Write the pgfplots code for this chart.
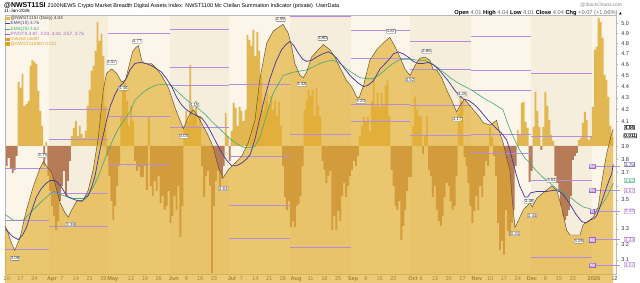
\documentclass[border=0pt]{standalone}
\usepackage{pgfplots}
\pgfplotsset{compat=1.18}
\usepackage{pgfplotstable}
\usepackage{fontspec}
\setmainfont{Liberation Sans}
\newfontfamily\djv{DejaVu Sans}
\definecolor{bgA}{HTML}{FBF6E9}
\definecolor{bgB}{HTML}{F5EEDC}
\definecolor{barpos}{HTML}{E2B650}
\definecolor{barneg}{HTML}{B67C58}
\definecolor{areac}{HTML}{E2AE30}
\definecolor{pricel}{HTML}{5E4C2C}
\definecolor{ematen}{HTML}{4A3C9C}
\definecolor{ematwf}{HTML}{3DAA7A}
\definecolor{pivc}{HTML}{B48CE0}
\definecolor{pivt}{HTML}{A060C8}
\definecolor{txt}{HTML}{333333}
\definecolor{legor}{HTML}{E0A030}
\tikzset{
  peak/.style={draw=gray!75!black, fill=white, rounded corners=0.6pt, inner sep=0.45pt, font=\fontsize{4.4}{4.4}\selectfont, line width=0.3pt, text=txt},
  rbox/.style={fill=white, rounded corners=0.5pt, inner sep=0.5pt, font=\fontsize{4.8}{4.8}\selectfont, line width=0.4pt},
  pbox/.style={fill=pivc!70, draw=pivt, text=white, inner sep=0.5pt, font=\fontsize{4.4}{4.4}\selectfont, line width=0.3pt},
}

\pgfplotstableread[row sep=\\]{h\\
-20\\-12\\-22\\-27\\-24\\-10\\64\\58\\72\\40\\42\\45\\80\\86\\84\\82\\55\\35\\20\\-20\\
4\\-30\\-45\\-60\\-70\\-84\\-75\\-55\\-40\\-25\\-50\\-35\\-15\\10\\18\\25\\10\\20\\12\\8\\
15\\40\\56\\75\\80\\95\\124\\105\\112\\90\\40\\-10\\-30\\-55\\-74\\-60\\-40\\-20\\30\\56\\
63\\45\\20\\40\\25\\-15\\-25\\-21\\-31\\-31\\-20\\-44\\29\\-40\\-50\\-35\\-45\\-30\\-57\\-50\\
-64\\-60\\-45\\-77\\-70\\-50\\-64\\-40\\-91\\-60\\20\\35\\25\\81\\40\\30\\45\\20\\30\\-20\\
-51\\-30\\-25\\-40\\-127\\-60\\-35\\-25\\-40\\-33\\-20\\33\\10\\-15\\15\\43\\38\\20\\39\\35\\
25\\36\\111\\106\\100\\116\\90\\114\\95\\70\\36\\45\\53\\40\\50\\36\\45\\30\\44\\20\\
-20\\-51\\-64\\-55\\-81\\-75\\-81\\-60\\-58\\-50\\-20\\36\\45\\56\\50\\56\\30\\58\\40\\29\\
-15\\-24\\-37\\-30\\-25\\-84\\-70\\-84\\-65\\-75\\-50\\-37\\-51\\-40\\-30\\-24\\-15\\-20\\-10\\10\\
20\\29\\25\\29\\15\\45\\66\\40\\53\\39\\53\\40\\60\\66\\30\\-24\\-40\\-60\\-64\\-55\\
-94\\-80\\-64\\-45\\-31\\-31\\20\\49\\36\\30\\29\\-8\\10\\30\\-24\\-30\\-51\\-40\\-64\\-75\\
-80\\-70\\-51\\-37\\-40\\-55\\-64\\-60\\-30\\33\\53\\45\\-11\\-20\\-37\\-60\\-77\\-65\\-50\\-64\\
-40\\-51\\-30\\-15\\-20\\19\\9\\-10\\-30\\-77\\-104\\-95\\-109\\-64\\-85\\-90\\-77\\-64\\-20\\16\\
11\\43\\44\\24\\18\\-36\\-25\\19\\54\\35\\19\\-4\\19\\54\\40\\26\\11\\5\\-30\\-37\\
-45\\-60\\-70\\-74\\-70\\-64\\-50\\-14\\-10\\-7\\6\\8\\23\\34\\26\\6\\10\\39\\96\\99\\
128\\124\\108\\71\\66\\49\\20\\9\\
}\osc

\pgfplotstableread[row sep=\\]{d v\\
-0.9 3.32\\0 3.30\\2 3.22\\4 3.16\\6.7 3.24\\10 3.43\\13.3 3.59\\16.8 3.73\\18.5 3.78\\21 3.73\\
22.7 3.70\\24.4 3.62\\27 3.48\\29.5 3.41\\31.2 3.38\\32.9 3.43\\35.4 3.49\\38.8 3.50\\41.3 3.57\\43.8 3.72\\
46.4 3.97\\48.9 4.37\\50.6 4.52\\53.2 4.56\\55.7 4.52\\58.2 4.44\\60.2 4.46\\62.4 4.62\\63.8 4.72\\65.3 4.76\\
66.7 4.78\\68.4 4.64\\70 4.61\\73.4 4.61\\76 4.56\\78.5 4.50\\81.9 4.39\\85.2 4.22\\87.8 4.11\\89.5 4.04\\
92 4.14\\94.5 4.20\\97 4.14\\99.6 4.06\\102 3.99\\104.7 3.89\\107.2 3.74\\109.7 3.66\\112.3 3.72\\115.7 3.77\\
119 3.82\\122.4 3.93\\125.8 4.11\\128.3 4.47\\131.7 4.80\\135 4.92\\138.5 4.97\\140 4.99\\142.7 4.90\\144.4 4.77\\
146 4.61\\148.6 4.50\\150.3 4.48\\152 4.53\\154.5 4.67\\157.9 4.74\\160.4 4.79\\163.8 4.74\\166.3 4.67\\168.9 4.57\\
172.3 4.45\\174.8 4.40\\177.3 4.31\\178.5 4.30\\180.7 4.40\\184 4.64\\187.5 4.74\\191.7 4.82\\194.2 4.86\\196.8 4.77\\
199.3 4.67\\201.8 4.56\\204.4 4.50\\206.9 4.59\\209.4 4.66\\212 4.67\\214.5 4.64\\216.2 4.55\\217.9 4.55\\220.4 4.48\\
223 4.37\\225.5 4.28\\228 4.18\\230 4.24\\232 4.29\\235.4 4.22\\239 4.15\\241.5 4.09\\244.9 4.07\\248.3 4.11\\
250 4.00\\251.6 3.93\\253.5 3.80\\255 3.72\\256.2 3.50\\257.6 3.31\\260.1 3.38\\261.8 3.43\\265.2 3.48\\266.3 3.45\\
268.6 3.51\\271.1 3.54\\273.7 3.57\\276.2 3.60\\278.7 3.57\\281.2 3.45\\283.8 3.29\\285.5 3.26\\288.8 3.26\\
290.5 3.26\\292.2 3.33\\295.6 3.36\\297.3 3.38\\299.8 3.45\\301.5 3.62\\304 3.84\\306.6 4.00\\307.4 4.04\\
}\price

\pgfplotstableread[row sep=\\]{d v\\
-0.9 3.30\\0 3.29\\3 3.25\\5.8 3.23\\8 3.26\\10 3.31\\12.5 3.42\\15 3.52\\17.5 3.58\\20 3.62\\
22 3.64\\24.4 3.64\\26 3.62\\27.8 3.59\\29.5 3.55\\31.2 3.52\\34.6 3.50\\38 3.49\\41.3 3.53\\43 3.59\\
44.7 3.67\\47.2 3.87\\50.6 4.11\\52.5 4.23\\54.8 4.33\\57 4.40\\59 4.43\\60.8 4.48\\62.4 4.55\\65 4.61\\
67.5 4.62\\70.5 4.61\\73.4 4.59\\76 4.56\\78.5 4.53\\81 4.47\\83.6 4.40\\86 4.31\\88.6 4.24\\91 4.20\\
93.7 4.17\\96 4.15\\98.8 4.13\\101.5 4.07\\103.9 4.00\\106.5 3.92\\109 3.85\\111.5 3.79\\114 3.75\\116.5 3.75\\
119 3.77\\121.5 3.80\\123.5 3.84\\126 3.97\\128.3 4.13\\131 4.32\\133.4 4.47\\136.5 4.63\\139.3 4.74\\141.5 4.79\\
143.5 4.82\\145.5 4.78\\147.7 4.71\\150 4.65\\152 4.63\\154.5 4.64\\157 4.67\\160 4.70\\163 4.72\\165 4.70\\
167.2 4.66\\170.5 4.58\\174 4.50\\177.5 4.44\\180.7 4.40\\183 4.41\\185.8 4.45\\189.2 4.56\\193.4 4.64\\196 4.70\\
198.4 4.72\\201 4.70\\203.5 4.67\\206 4.63\\208.6 4.61\\211 4.61\\213.6 4.62\\216 4.60\\218.7 4.56\\221 4.51\\
223.8 4.45\\226.5 4.38\\228.8 4.33\\231.5 4.29\\233.9 4.28\\236.5 4.25\\239 4.21\\241.5 4.16\\244 4.11\\246.5 4.07\\
249 4.03\\250.5 4.01\\253.4 3.95\\255 3.87\\256.7 3.77\\258.5 3.67\\260 3.60\\262.6 3.52\\264 3.52\\265.5 3.55\\
268.6 3.56\\271 3.56\\273.7 3.56\\276 3.565\\277.8 3.57\\280 3.56\\282 3.54\\284 3.50\\286.3 3.45\\288.5 3.40\\
291.4 3.35\\293.5 3.34\\295.6 3.36\\297.5 3.37\\299 3.39\\300.7 3.45\\302.3 3.52\\304.5 3.61\\306.6 3.69\\307.4 3.76\\
}\emaA

\pgfplotstableread[row sep=\\]{d v\\
-0.9 3.40\\0 3.39\\3.3 3.36\\8.4 3.36\\13.4 3.43\\18.5 3.50\\23.6 3.56\\26 3.55\\28.6 3.53\\33.7 3.51\\
38.8 3.51\\41.3 3.54\\43.8 3.59\\46.4 3.67\\48.9 3.77\\51.5 3.87\\54 3.96\\56.5 4.04\\59 4.10\\62.4 4.18\\
65 4.28\\68.5 4.34\\71.7 4.38\\75 4.41\\78.5 4.42\\81.9 4.42\\84.5 4.39\\86.9 4.35\\90 4.30\\93.7 4.25\\
97 4.21\\100.5 4.16\\104 4.10\\107.2 4.05\\110.5 4.00\\114 3.95\\117.5 3.91\\120.7 3.89\\123 3.89\\125.8 3.90\\
128.3 3.97\\131 4.12\\135 4.34\\140.1 4.50\\145.2 4.53\\148.5 4.54\\152 4.55\\155.5 4.58\\158.7 4.61\\162 4.63\\
165.5 4.64\\169 4.61\\172.3 4.56\\175.5 4.52\\179 4.48\\182.5 4.47\\185.8 4.47\\188.5 4.50\\191.7 4.55\\195 4.60\\
198.4 4.64\\201.5 4.65\\205.2 4.65\\208.5 4.64\\212 4.64\\215.5 4.61\\218.7 4.57\\222 4.52\\225.5 4.47\\229 4.43\\
232.2 4.40\\235.5 4.37\\239 4.33\\242.5 4.29\\245.8 4.26\\248.5 4.23\\251.5 4.20\\253.5 4.10\\255.5 4.02\\257.5 3.95\\
260 3.87\\262.5 3.81\\265.2 3.77\\268.5 3.71\\272 3.66\\275.5 3.62\\278.7 3.58\\282 3.55\\285.5 3.52\\289 3.48\\
292.2 3.45\\295 3.44\\297.3 3.43\\300 3.44\\302.3 3.48\\304.8 3.54\\307.4 3.62\\
}\emaB

\begin{document}
\begin{tikzpicture}
\useasboundingbox (0,0) rectangle (640pt,283pt);
% oscillator axis with background
\begin{axis}[at={(5pt,9pt)}, anchor=south west, width=611pt, height=259pt, scale only axis,
  xmin=-0.9, xmax=308.8, ymin=-128, ymax=131, hide axis, clip=true]
  \fill[bgA] (axis cs:-0.9,-128) rectangle (axis cs:21.5,131);
  \fill[bgB] (axis cs:21.5,-128) rectangle (axis cs:51.5,131);
  \fill[bgA] (axis cs:51.5,-128) rectangle (axis cs:82.5,131);
  \fill[bgB] (axis cs:82.5,-128) rectangle (axis cs:112.5,131);
  \fill[bgA] (axis cs:112.5,-128) rectangle (axis cs:143.5,131);
  \fill[bgB] (axis cs:143.5,-128) rectangle (axis cs:174.5,131);
  \fill[bgA] (axis cs:174.5,-128) rectangle (axis cs:204.5,131);
  \fill[bgB] (axis cs:204.5,-128) rectangle (axis cs:235.5,131);
  \fill[bgA] (axis cs:235.5,-128) rectangle (axis cs:265.5,131);
  \fill[bgB] (axis cs:265.5,-128) rectangle (axis cs:296.5,131);
  \fill[bgA] (axis cs:296.5,-128) rectangle (axis cs:308.8,131);
  \addplot[ybar, bar width=0.95, bar shift=0pt, fill=barpos, draw=none, restrict y to domain=0:200] table[x expr=\coordindex, y=h]{\osc};
  \addplot[ybar, bar width=0.95, bar shift=0pt, fill=barneg, draw=none, restrict y to domain=-200:0] table[x expr=\coordindex, y=h]{\osc};
\end{axis}
% price axis
\begin{axis}[at={(5pt,9pt)}, anchor=south west, width=611pt, height=259pt, scale only axis,
  xmin=-0.9, xmax=308.8, ymode=log, ymin=3.013, ymax=5.0845, clip=false,
  axis line style={draw=gray!55, line width=0.4pt},
  ytick={3.1,3.2,3.3,3.4,3.5,3.6,3.7,3.8,3.9,4.1,4.2,4.3,4.4,4.5,4.6,4.7,4.8,4.9,5.0},
  yticklabels={3.1,3.2,3.3,,3.5,,3.7,3.8,3.9,4.1,4.2,4.3,4.4,4.5,4.6,4.7,4.8,4.9,5.0},
  ytick pos=right, yticklabel pos=right, minor ytick={},
  xtick pos=bottom,
  xtick={0,7,14,22.9,28,35,42,49,53.8,63,70,77,84.7,91,98,105,114.1,119,126,133,140,146.6,154,161,168,175.5,182,189,196,205.9,210,217,224,231,238.3,245,252,259,266.2,273,280,287,297.6,308},
  xticklabels={10,17,24,\textbf{Apr},7,14,21,28,\textbf{May},12,19,26,\textbf{Jun},9,16,23,\textbf{Jul},7,14,21,28,\textbf{Aug},11,18,25,\textbf{Sep},8,15,22,\textbf{Oct},6,13,20,27,\textbf{Nov},10,17,24,\textbf{Dec},8,15,22,\textbf{2026},12},
  tick align=outside, major tick length=1.5pt, xtick style={draw=none},
  ytick style={gray!60, line width=0.3pt},
  xticklabel style={font=\fontsize{5.6}{6}\selectfont, text=txt, inner sep=0.8pt},
  yticklabel style={font=\fontsize{5.6}{6}\selectfont, text=txt, inner sep=0.8pt, xshift=2.8pt},
]
  \addplot[fill=areac, fill opacity=0.66, draw=none] table[x=d,y=v]{\price} \closedcycle;
  \addplot[pivc, line width=0.45pt, unbounded coords=jump] coordinates {
   (-0.9,3.73) (21.5,3.73) (21.5,nan) (-0.9,3.36) (21.5,3.36) (21.5,nan) (-0.9,3.17) (21.5,3.17) (21.5,nan)
   (21.5,4.20) (51.5,4.20) (51.5,nan) (21.5,3.96) (51.5,3.96) (51.5,nan) (21.5,3.55) (51.5,3.55) (51.5,nan) (21.5,3.32) (51.5,3.32) (51.5,nan)
   (51.5,4.90) (82.5,4.90) (82.5,nan) (51.5,4.14) (82.5,4.14) (82.5,nan) (51.5,3.76) (82.5,3.76) (82.5,nan)
   (82.5,4.94) (112.5,4.94) (112.5,nan) (82.5,4.58) (112.5,4.58) (112.5,nan) (82.5,4.41) (112.5,4.41) (112.5,nan) (82.5,4.05) (112.5,4.05) (112.5,nan)
   (112.5,4.42) (143.5,4.42) (143.5,nan) (112.5,3.82) (143.5,3.82) (143.5,nan) (112.5,3.46) (143.5,3.46) (143.5,nan) (112.5,3.24) (143.5,3.24) (143.5,nan)
   (143.5,5.07) (174.5,5.07) (174.5,nan) (143.5,4.00) (174.5,4.00) (174.5,nan) (143.5,3.18) (174.5,3.18) (174.5,nan)
   (174.5,4.93) (204.5,4.93) (204.5,nan) (174.5,4.66) (204.5,4.66) (204.5,nan) (174.5,4.25) (204.5,4.25) (204.5,nan) (174.5,4.10) (204.5,4.10) (204.5,nan)
   (204.5,4.82) (235.5,4.82) (235.5,nan) (204.5,4.56) (235.5,4.56) (235.5,nan) (204.5,4.24) (235.5,4.24) (235.5,nan) (204.5,3.99) (235.5,3.99) (235.5,nan)
   (235.5,4.87) (265.5,4.87) (265.5,nan) (235.5,4.55) (265.5,4.55) (265.5,nan) (235.5,4.37) (265.5,4.37) (265.5,nan) (235.5,4.00) (265.5,4.00) (265.5,nan) (235.5,3.85) (265.5,3.85) (265.5,nan)
   (265.5,4.52) (296.5,4.52) (296.5,nan) (265.5,3.98) (296.5,3.98) (296.5,nan) (265.5,3.64) (296.5,3.64) (296.5,nan) (265.5,3.12) (296.5,3.12) (296.5,nan)
   (296.5,3.75) (311,3.75) (311,nan) (296.5,3.57) (311,3.57) (311,nan) (296.5,3.42) (311,3.42) (311,nan) (296.5,3.23) (311,3.23) (311,nan) (296.5,3.07) (311,3.07)
  };
  \addplot[ematwf, line width=0.6pt] table[x=d,y=v]{\emaB};
  \addplot[ematen, line width=0.75pt] table[x=d,y=v]{\emaA};
  \addplot[pricel, line width=0.45pt] table[x=d,y=v]{\price};
  % peak / trough labels
  \node[peak] at (axis cs:4.2,3.11) {3.06};
  \node[peak] at (axis cs:18.2,3.83) {3.75};
  \node[peak] at (axis cs:32.4,3.33) {3.38};
  \node[peak] at (axis cs:53.2,4.62) {4.57};
  \node[peak] at (axis cs:59.0,4.385) {4.44};
  \node[peak] at (axis cs:66.1,4.82) {4.77};
  \node[peak] at (axis cs:89.8,3.98) {4.03};
  \node[peak] at (axis cs:95.0,4.24) {4.15};
  \node[peak] at (axis cs:109.7,3.58) {3.63};
  \node[peak] at (axis cs:138.8,5.04) {4.99};
  \node[peak] at (axis cs:149.5,4.42) {4.48};
  \node[peak] at (axis cs:160.1,4.85) {4.80};
  \node[peak] at (axis cs:179.4,4.27) {4.20};
  \node[peak] at (axis cs:194.7,4.92) {4.87};
  \node[peak] at (axis cs:204.4,4.46) {4.52};
  \node[peak] at (axis cs:212.8,4.725) {4.66};
  \node[peak] at (axis cs:230.9,4.335) {4.25};
  \node[peak] at (axis cs:228.3,4.12) {4.17};
  \node[peak] at (axis cs:257.6,3.27) {3.31};
  \node[peak] at (axis cs:264.8,3.49) {3.46};
  \node[peak] at (axis cs:266.3,3.39) {3.44};
  \node[peak] at (axis cs:276.2,3.64) {3.61};
  \node[peak] at (axis cs:289.9,3.22) {3.26};
  % pivot tags
  \node[pbox] at (axis cs:296.7,3.75) {R2};
  \node[pbox] at (axis cs:296.7,3.57) {R1};
  \node[pbox] at (axis cs:296.7,3.42) {P};
  \node[pbox] at (axis cs:296.7,3.23) {S1};
  \node[pbox] at (axis cs:296.7,3.07) {S2};
  % right value boxes
  \node[rbox, draw=black, text=black] at (axis cs:315.6,4.05) {\textbf{4.04}};
  \node[rbox, draw=black, text=black] at (axis cs:316.0,3.985) {\textbf{0.011}};
  \node[rbox, draw=ematen, text=ematen] at (axis cs:315.6,3.76) {3.75};
  \node[rbox, draw=ematwf, text=ematwf] at (axis cs:315.6,3.64) {3.62};
  \node[rbox, draw=pivt, text=pivt] at (axis cs:315.6,3.565) {3.57};
  \node[rbox, draw=pivt, text=pivt] at (axis cs:315.6,3.42) {3.42};
  \node[rbox, draw=pivt, text=pivt] at (axis cs:315.6,3.23) {3.23};
  \node[rbox, draw=pivt, text=pivt] at (axis cs:315.6,3.07) {3.07};
\end{axis}
% title and header
\node[anchor=base west, inner sep=0, text=black] at (4pt,275pt) {{\fontsize{7}{8}\selectfont\bfseries @NWST11SI}\hspace{2pt}{\fontsize{5.45}{6}\selectfont 2100NEWS Crypto Market Breadth Digital Assets Index: NWST1100 Mc Clellan Summation Indicator (private)\ \ UserData}};
\node[anchor=base west, inner sep=0, text=black, font=\fontsize{4.6}{5}\selectfont] at (4pt,270.4pt) {11-Jan-2026};
\node[anchor=base east, inner sep=0, text=gray, font=\fontsize{4.8}{5}\selectfont] at (622pt,276.5pt) {@StockCharts.com};
\node[anchor=base east, inner sep=0, text=gray!80!black, font=\fontsize{5.7}{6}\selectfont] at (622pt,268.8pt) {\textcolor{black}{\textbf{Open}} 4.01 \textcolor{black}{\textbf{High}} 4.04 \textcolor{black}{\textbf{Low}} 4.01 \textcolor{black}{\textbf{Close}} 4.04 \textcolor{black}{\textbf{Chg}} +0.07 (+1.66\%) {\djv\fontsize{3.5}{4}\selectfont\textcolor{black}{▲}}};
% legend
\fill[areac!85] (5pt,263pt) rectangle (9.5pt,266.4pt);
\node[anchor=west, inner sep=0, text=txt, font=\fontsize{4.6}{5}\selectfont] at (10.5pt,264.7pt) {@NWST11SI (Daily) 4.04};
\draw[ematen, line width=0.8pt] (5pt,259.2pt) -- (9.5pt,259.2pt);
\node[anchor=west, inner sep=0, text=ematen, font=\fontsize{4.6}{5}\selectfont] at (10.5pt,259.2pt) {EMA(10) 3.76};
\draw[ematwf, line width=0.8pt] (5pt,254pt) -- (9.5pt,254pt);
\node[anchor=west, inner sep=0, text=ematwf, font=\fontsize{4.6}{5}\selectfont] at (10.5pt,254pt) {EMA(25) 3.62};
\draw[pivt, line width=0.8pt] (5pt,248.8pt) -- (9.5pt,248.8pt);
\node[anchor=west, inner sep=0, text=pivt, font=\fontsize{4.6}{5}\selectfont] at (10.5pt,248.8pt) {PIVOTS 3.87, 3.23, 3.42, 3.57, 3.76};
\fill[legor] (5pt,242.2pt) rectangle (9.5pt,245.4pt);
\node[anchor=west, inner sep=0, text=legor, font=\fontsize{4.6}{5}\selectfont] at (10.5pt,243.8pt) {Volume undef};
\fill[legor] (5pt,237.4pt) rectangle (9.5pt,240.6pt);
\node[anchor=west, inner sep=0, text=legor, font=\fontsize{4.6}{5}\selectfont] at (10.5pt,239pt) {@NWST11SMO 0.011};
\end{tikzpicture}
\end{document}
